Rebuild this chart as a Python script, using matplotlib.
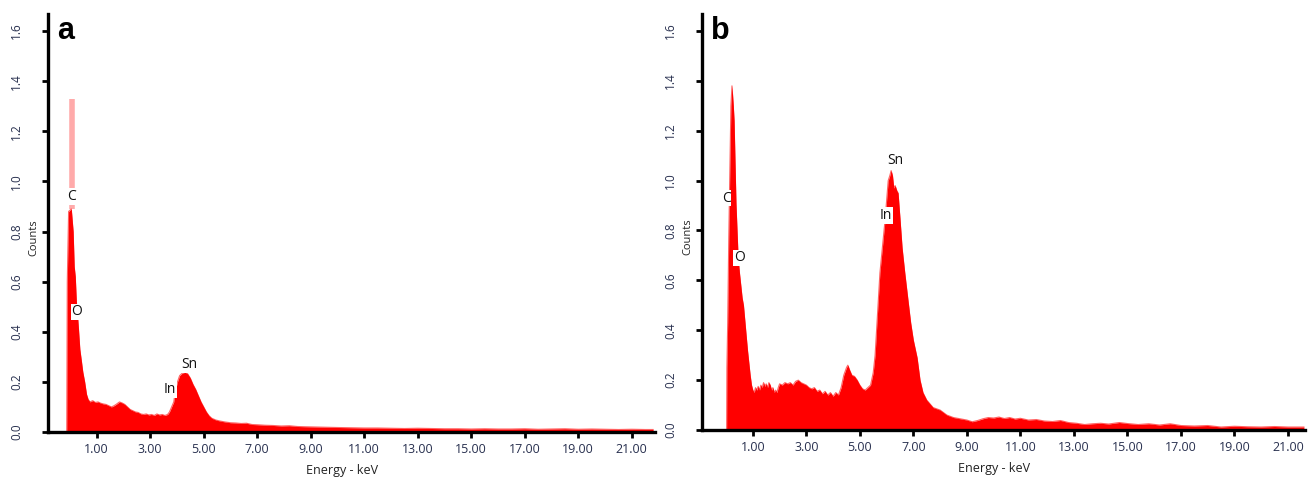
import matplotlib
matplotlib.use("Agg")
import matplotlib.pyplot as plt
import numpy as np

# ---------------- data ----------------
energy_a = [-0.12, -0.10, -0.05, 0.05, 0.12, 0.16, 0.20, 0.24, 0.28, 0.32, 0.37, 0.42, 0.48,
            0.55, 0.62, 0.68, 0.75, 0.85, 0.95, 1.05, 1.15, 1.25, 1.35, 1.45, 1.55, 1.65,
            1.75, 1.85, 1.95, 2.05, 2.15, 2.25, 2.35, 2.45, 2.55, 2.65, 2.75, 2.85, 2.95,
            3.05, 3.15, 3.25, 3.35, 3.45, 3.55, 3.65, 3.72, 3.80, 3.88, 3.95, 4.02, 4.10,
            4.20, 4.30, 4.40, 4.50, 4.60, 4.70, 4.80, 4.90, 5.00, 5.10, 5.20, 5.30, 5.45,
            5.60, 5.80, 6.00, 6.20, 6.40, 6.60, 6.80, 7.00, 7.30, 7.60, 7.90, 8.20, 8.50,
            8.80, 9.20, 9.60, 10.0, 10.5, 11.0, 11.5, 12.0, 12.5, 13.0, 13.5, 14.0, 14.5,
            15.0, 15.5, 16.0, 16.5, 17.0, 17.5, 18.0, 18.5, 19.0, 19.5, 20.0, 20.5, 21.0,
            21.5, 21.8]
counts_a = [0.00, 0.60, 0.88, 0.89, 0.80, 0.66, 0.62, 0.52, 0.47, 0.41, 0.33, 0.29, 0.24,
            0.20, 0.15, 0.13, 0.12, 0.125, 0.118, 0.12, 0.115, 0.112, 0.11, 0.105, 0.10, 0.105,
            0.112, 0.12, 0.116, 0.11, 0.10, 0.09, 0.085, 0.08, 0.078, 0.072, 0.07, 0.072, 0.068,
            0.07, 0.066, 0.072, 0.068, 0.07, 0.066, 0.07, 0.08, 0.10, 0.12, 0.17, 0.20, 0.225,
            0.235, 0.238, 0.232, 0.215, 0.19, 0.17, 0.145, 0.12, 0.10, 0.08, 0.065, 0.055, 0.048,
            0.044, 0.04, 0.037, 0.036, 0.034, 0.035, 0.03, 0.029, 0.027, 0.026, 0.024, 0.025, 0.022,
            0.021, 0.02, 0.019, 0.018, 0.017, 0.016, 0.016, 0.015, 0.014, 0.015, 0.014, 0.013, 0.013,
            0.012, 0.013, 0.012, 0.012, 0.013, 0.011, 0.012, 0.013, 0.011, 0.012, 0.011, 0.010, 0.011,
            0.010, 0.010]
spike_a = (0.07, 0.89, 1.33)  # energy, bottom, top of the narrow C spike (pale)

energy_b = [0.02, 0.03, 0.06, 0.10, 0.14, 0.18, 0.22, 0.27, 0.30, 0.34, 0.37, 0.41, 0.45,
            0.50, 0.55, 0.60, 0.65, 0.70, 0.75, 0.80, 0.85, 0.90, 0.95, 1.00, 1.05, 1.10,
            1.15, 1.20, 1.25, 1.30, 1.35, 1.40, 1.45, 1.50, 1.55, 1.60, 1.65, 1.70, 1.75,
            1.80, 1.85, 1.90, 1.95, 2.00, 2.10, 2.20, 2.30, 2.40, 2.50, 2.60, 2.70, 2.80,
            2.90, 3.00, 3.10, 3.20, 3.30, 3.40, 3.50, 3.60, 3.70, 3.80, 3.90, 4.00, 4.10,
            4.20, 4.30, 4.40, 4.50, 4.55, 4.62, 4.70, 4.80, 4.90, 5.00, 5.10, 5.20, 5.30,
            5.40, 5.50, 5.57, 5.65, 5.75, 5.85, 5.94, 6.00, 6.06, 6.12, 6.17, 6.22, 6.27,
            6.32, 6.38, 6.43, 6.50, 6.58, 6.68, 6.80, 6.90, 7.00, 7.14, 7.25, 7.36, 7.50,
            7.74, 8.00, 8.25, 8.50, 8.75, 9.00, 9.20, 9.40, 9.60, 9.80, 10.0, 10.2, 10.4,
            10.6, 10.8, 11.0, 11.3, 11.6, 11.9, 12.2, 12.5, 12.8, 13.1, 13.4, 13.7, 14.0,
            14.3, 14.7, 15.0, 15.4, 15.8, 16.2, 16.6, 17.0, 17.5, 18.0, 18.5, 19.0, 19.5,
            20.0, 20.5, 21.0, 21.6]
counts_b = [0.00, 0.25, 0.43, 0.77, 1.04, 1.30, 1.38, 1.30, 1.24, 1.05, 0.91, 0.80, 0.69,
            0.63, 0.58, 0.53, 0.50, 0.44, 0.38, 0.32, 0.27, 0.22, 0.18, 0.16, 0.15, 0.17,
            0.16, 0.175, 0.16, 0.18, 0.17, 0.19, 0.175, 0.185, 0.17, 0.19, 0.18, 0.16, 0.17,
            0.15, 0.16, 0.15, 0.17, 0.185, 0.18, 0.19, 0.185, 0.19, 0.18, 0.195, 0.20, 0.19,
            0.185, 0.18, 0.17, 0.165, 0.17, 0.155, 0.16, 0.145, 0.155, 0.14, 0.15, 0.135, 0.15,
            0.14, 0.17, 0.22, 0.25, 0.26, 0.24, 0.22, 0.215, 0.20, 0.18, 0.165, 0.16, 0.17,
            0.18, 0.23, 0.30, 0.45, 0.63, 0.74, 0.84, 0.92, 1.00, 1.02, 1.04, 1.02, 0.97,
            0.98, 0.96, 0.95, 0.85, 0.73, 0.63, 0.52, 0.43, 0.36, 0.29, 0.20, 0.15, 0.12,
            0.09, 0.08, 0.06, 0.05, 0.045, 0.04, 0.033, 0.038, 0.045, 0.05, 0.048, 0.052, 0.046,
            0.05, 0.044, 0.047, 0.04, 0.042, 0.036, 0.034, 0.038, 0.03, 0.027, 0.022, 0.025, 0.027,
            0.024, 0.03, 0.026, 0.022, 0.025, 0.02, 0.025, 0.018, 0.016, 0.018, 0.012, 0.015, 0.013,
            0.012, 0.014, 0.012, 0.012]

labels_a = ["C", "O", "In", "Sn"]
label_pos_a = [(0.07, 0.94), (0.26, 0.48), (3.74, 0.17), (4.45, 0.27)]
labels_b = ["C", "O", "In", "Sn"]
label_pos_b = [(0.0, 0.93), (0.49, 0.69), (5.98, 0.86), (6.32, 1.08)]

xticks = [1, 3, 5, 7, 9, 11, 13, 15, 17, 19, 21]
xtick_labels = ["1.00", "3.00", "5.00", "7.00", "9.00", "11.00", "13.00",
                "15.00", "17.00", "19.00", "21.00"]
yticks = [0.0, 0.2, 0.4, 0.6, 0.8, 1.0, 1.2, 1.4, 1.6]
ytick_labels = ["0.0", "0.2", "0.4", "0.6", "0.8", "1.0", "1.2", "1.4", "1.6"]

# ---------------- figure ----------------
plt.rcParams['font.family'] = ['Open Sans', 'DejaVu Sans']
W, H = 1308, 480
fig = plt.figure(figsize=(W / 100, H / 100), dpi=100)

RED = '#ff0000'
TICKCOL = '#28304f'


def make_axes(rect, xlim, energy, counts, labels, label_pos, letter, spike=None):
    ax = fig.add_axes(rect)
    ax.fill_between(energy, counts, 0, color=RED, lw=0, zorder=2)
    ax.plot(energy, counts, color=RED, lw=0.8, alpha=0.6, zorder=2)
    if spike is not None:
        ax.vlines(spike[0], spike[1], spike[2], color='#ffaaaa', lw=4, zorder=1)
    ax.set_xlim(*xlim)
    ax.set_ylim(0, 1.668)
    for s in ['top', 'right']:
        ax.spines[s].set_visible(False)
    for s in ['left', 'bottom']:
        ax.spines[s].set_linewidth(2.4)
        ax.spines[s].set_color('black')
        ax.spines[s].set_zorder(5)
    ax.set_xticks(xticks)
    ax.set_xticklabels(xtick_labels, fontsize=9, color=TICKCOL)
    ax.set_yticks(yticks)
    ax.set_yticklabels(ytick_labels, fontsize=8.5, color=TICKCOL, rotation=90,
                       va='center')
    ax.tick_params(axis='both', direction='out', length=4, width=2, colors='black')
    ax.tick_params(axis='x', pad=4, labelcolor=TICKCOL)
    ax.tick_params(axis='y', pad=14, labelcolor=TICKCOL)
    ax.set_xlabel("Energy - keV", fontsize=9, color='#222222')
    ax.xaxis.set_label_coords(0.485, -0.076)
    ax.set_ylabel("Counts", fontsize=8, color='#222222')
    ax.yaxis.set_label_coords(-0.014, 0.465)
    for lab, (x, y) in zip(labels, label_pos):
        ax.text(x, y, lab, fontsize=10, color='#111111', ha='center', va='center',
                zorder=6,
                bbox=dict(boxstyle='square,pad=0.05', fc='white', ec='none'))
    ax.text(0.015, 0.96, letter, transform=ax.transAxes, fontsize=22,
            fontweight='bold', family='Liberation Sans', ha='left', va='center',
            zorder=6)
    return ax


ax_a = make_axes([48 / W, 48 / H, 607 / W, 418 / H], (-0.82, 21.87),
                 energy_a, counts_a, labels_a, label_pos_a, 'a', spike=spike_a)
ax_b = make_axes([702 / W, 50 / H, 603 / W, 416 / H], (-0.90, 21.64),
                 energy_b, counts_b, labels_b, label_pos_b, 'b')

fig.savefig('out.png', dpi=100)
